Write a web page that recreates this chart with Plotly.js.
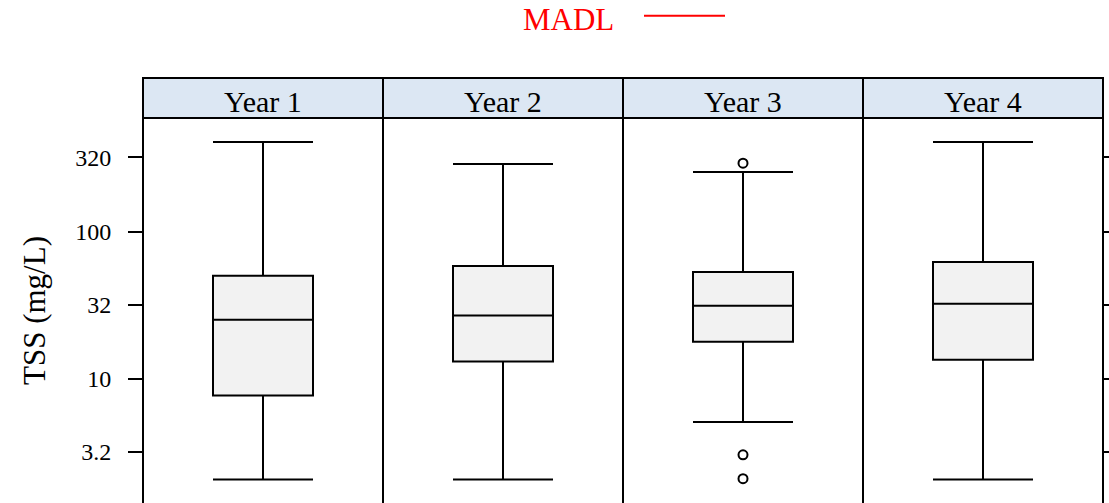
<!DOCTYPE html>
<html>
<head>
<meta charset="utf-8">
<script src="https://cdn.plot.ly/plotly-3.0.1.min.js"></script>
<style>
  html, body { margin: 0; padding: 0; background: #ffffff; }
  #chart { width: 1109px; height: 503px; }
</style>
</head>
<body>
<div id="chart"></div>
<script>
// ---- Data ----
const years = ['Year 1', 'Year 2', 'Year 3', 'Year 4'];
const lowerWhisker = [2.07, 2.07, 5.09, 2.07];
const q1Values = [7.7, 13.1, 17.9, 13.5];
const medianValues = [25.2, 27.0, 31.4, 32.4];
const q3Values = [50.2, 58.4, 53.2, 62.2];
const upperWhisker = [406, 288, 254, 406];
const outlierYears = ['Year 3', 'Year 3', 'Year 3'];
const outlierValues = [292, 3.05, 2.10];
const yTickVals = [3.2, 10, 32, 100, 320];
const yTickText = ['3.2', '10', '32', '100', '320'];
const legendLabel = 'MADL';

// ---- Build traces ----
const FONT = 'Liberation Serif, Times New Roman, serif';
const LW = 2;
const traces = [];
years.forEach((yr, i) => {
  const ax = i === 0 ? 'x' : 'x' + (i + 1);
  traces.push({
    type: 'box',
    x: [yr],
    q1: [q1Values[i]],
    median: [medianValues[i]],
    q3: [q3Values[i]],
    lowerfence: [lowerWhisker[i]],
    upperfence: [upperWhisker[i]],
    width: 100 / 240,
    whiskerwidth: 1,
    boxpoints: false,
    fillcolor: '#f2f2f2',
    line: { color: '#000000', width: LW },
    xaxis: ax,
    yaxis: 'y',
    showlegend: false,
    hoverinfo: 'y'
  });
  const ox = [], oy = [];
  outlierYears.forEach((oyr, k) => { if (oyr === yr) { ox.push(oyr); oy.push(outlierValues[k]); } });
  if (ox.length) {
    traces.push({
      type: 'scatter', mode: 'markers',
      x: ox, y: oy,
      marker: { symbol: 'circle', size: 9, color: '#ffffff', line: { color: '#000000', width: 2 } },
      xaxis: ax, yaxis: 'y', showlegend: false
    });
  }
});
// invisible trace so the right-hand tick axis is drawn
traces.push({
  type: 'scatter', mode: 'markers', x: [years[3]], y: [medianValues[3]],
  xaxis: 'x4', yaxis: 'y2', marker: { opacity: 0 }, showlegend: false, hoverinfo: 'skip'
});

// ---- Layout ----
const H = 503, T = 118;
const plotH = H - T;
const stripTop = 1 + 40 / plotH;
const yRange = [0.157, 2.772];

const layout = {
  width: 1109, height: 503,
  margin: { l: 143, r: 6, t: T, b: 0 },
  paper_bgcolor: '#ffffff', plot_bgcolor: '#ffffff',
  font: { family: FONT, color: '#000000', size: 24 },
  showlegend: false,
  yaxis: {
    type: 'log', range: yRange,
    tickvals: yTickVals, ticktext: yTickText,
    ticks: 'outside', ticklen: 14, tickwidth: 2, tickcolor: '#000000',
    ticklabelstandoff: 12,
    tickfont: { family: FONT, size: 24, color: '#000000' },
    showgrid: false, zeroline: false, showline: false,
    title: { text: 'TSS (mg/L)', font: { family: FONT, size: 31, color: '#000000' }, standoff: 20 }
  },
  yaxis2: {
    type: 'log', range: yRange, overlaying: 'y', side: 'right', anchor: 'free', position: 1,
    tickvals: yTickVals, ticks: 'outside', ticklen: 14, tickwidth: 2, tickcolor: '#000000',
    showticklabels: false, showgrid: false, zeroline: false, showline: false
  },
  shapes: [],
  annotations: []
};
years.forEach((yr, i) => {
  const key = i === 0 ? 'xaxis' : 'xaxis' + (i + 1);
  layout[key] = {
    domain: [i * 0.25, (i + 1) * 0.25],
    type: 'category', range: [-0.5, 0.5],
    showticklabels: false, ticks: '', showgrid: false, zeroline: false, showline: false,
    anchor: 'y'
  };
  const x0 = i * 0.25, x1 = (i + 1) * 0.25;
  // panel border
  layout.shapes.push({ type: 'rect', xref: 'paper', yref: 'paper', x0: x0, x1: x1, y0: -0.1, y1: 1,
    line: { color: '#000000', width: 2 }, fillcolor: 'rgba(0,0,0,0)', layer: 'above' });
  // strip
  layout.shapes.push({ type: 'rect', xref: 'paper', yref: 'paper', x0: x0, x1: x1, y0: 1, y1: stripTop,
    line: { color: '#000000', width: 2 }, fillcolor: '#dce7f3', layer: 'below' });
  layout.annotations.push({ xref: 'paper', yref: 'paper', x: (x0 + x1) / 2, y: 1 + 17 / plotH,
    xanchor: 'center', yanchor: 'middle', showarrow: false, text: yr,
    font: { family: FONT, size: 30, color: '#000000' } });
});
// MADL key (text + red line)
layout.annotations.push({ xref: 'paper', yref: 'paper', x: (568 - 143) / 960, y: (H - 19) / plotH,
  xanchor: 'center', yanchor: 'middle', showarrow: false, text: legendLabel,
  font: { family: FONT, size: 31, color: '#ff0000' } });
layout.shapes.push({ type: 'line', xref: 'paper', yref: 'paper',
  x0: (644 - 143) / 960, x1: (725 - 143) / 960, y0: (H - 15.7) / plotH, y1: (H - 15.7) / plotH,
  line: { color: '#ff0000', width: 2 } });

Plotly.newPlot('chart', traces, layout, { displayModeBar: false, staticPlot: true });
</script>
</body>
</html>
